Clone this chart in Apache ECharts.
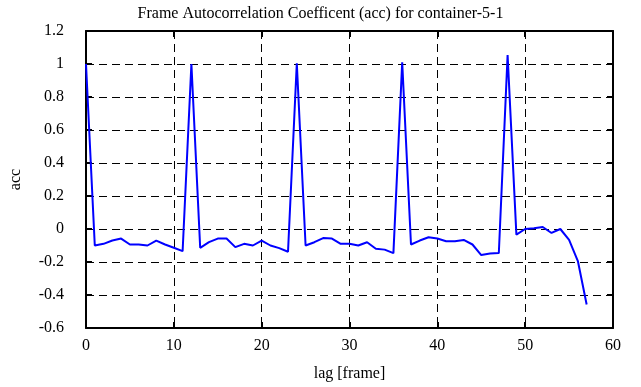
<!DOCTYPE html>
<html><head><meta charset="utf-8">
<script src="https://cdn.jsdelivr.net/npm/echarts@6/dist/echarts.min.js"></script>
<style>html,body{margin:0;padding:0;background:#fff}#c{width:641px;height:387px}</style>
</head><body><div id="c"></div>
<script>
const titleText = "Frame Autocorrelation Coefficent (acc) for container-5-1";
const xName = "lag [frame]";
const yName = "acc";
const lags = [0,1,2,3,4,5,6,7,8,9,10,11,12,13,14,15,16,17,18,19,20,21,22,23,24,25,26,27,28,29,30,31,32,33,34,35,36,37,38,39,40,41,42,43,44,45,46,47,48,49,50,51,52,53,54,55,56,57];
const acc = [1.0,-0.10,-0.09,-0.07,-0.058,-0.094,-0.094,-0.10,-0.07,-0.094,-0.114,-0.134,
  1.0,-0.114,-0.08,-0.058,-0.058,-0.11,-0.09,-0.10,-0.07,-0.10,-0.116,-0.138,
  1.005,-0.10,-0.08,-0.055,-0.058,-0.09,-0.09,-0.10,-0.08,-0.12,-0.125,-0.146,
  1.01,-0.094,-0.07,-0.05,-0.058,-0.074,-0.074,-0.066,-0.094,-0.158,-0.148,-0.146,
  1.054,-0.034,0.0,0.004,0.012,-0.024,0.0,-0.066,-0.194,-0.458];
const xTicks = {min:0, max:60, interval:10};
const yTicks = {min:-0.6, max:1.2, interval:0.2};

const font = "Liberation Serif";
const chart = echarts.init(document.getElementById('c'), null, {renderer:'canvas'});
const axLine = {show:true, onZero:false, lineStyle:{color:'#000', width:2}};
const tick = {show:true, inside:true, length:6, lineStyle:{color:'#000', width:2}};
const grid = {show:true, lineStyle:{color:'#000', width:1, type:[8,5]}};
chart.setOption({
  animation:false,
  title:{text:titleText, left:'center', top:1, textStyle:{fontFamily:font, fontWeight:'normal', fontSize:16, color:'#000'}},
  grid:{left:86, right:28, top:31, bottom:56, containLabel:false},
  xAxis:[
    {type:'value', min:xTicks.min, max:xTicks.max, interval:xTicks.interval, name:xName, nameLocation:'middle', nameGap:38,
     nameTextStyle:{fontFamily:font, fontSize:16, color:'#000'},
     axisLine:axLine, axisTick:tick, splitLine:grid,
     axisLabel:{fontFamily:font, fontSize:16, color:'#000', margin:10}},
    {type:'value', position:'top', min:xTicks.min, max:xTicks.max, interval:xTicks.interval,
     axisLine:axLine, axisTick:tick, splitLine:{show:false}, axisLabel:{show:false}}
  ],
  yAxis:[
    {type:'value', min:yTicks.min, max:yTicks.max, interval:yTicks.interval, name:yName, nameLocation:'middle', nameGap:62,
     nameTextStyle:{fontFamily:font, fontSize:16, color:'#000'},
     axisLine:axLine, axisTick:tick, splitLine:grid,
     axisLabel:{fontFamily:font, fontSize:16, color:'#000', margin:22, formatter:v=>String(Math.round(v*10)/10)}},
    {type:'value', position:'right', min:yTicks.min, max:yTicks.max, interval:yTicks.interval,
     axisLine:axLine, axisTick:tick, splitLine:{show:false}, axisLabel:{show:false}}
  ],
  series:[{type:'line', data:lags.map((l,i)=>[l,acc[i]]), showSymbol:false, symbol:'none',
    lineStyle:{color:'#0000ff', width:2}, itemStyle:{color:'#0000ff'}}]
});
</script></body></html>
